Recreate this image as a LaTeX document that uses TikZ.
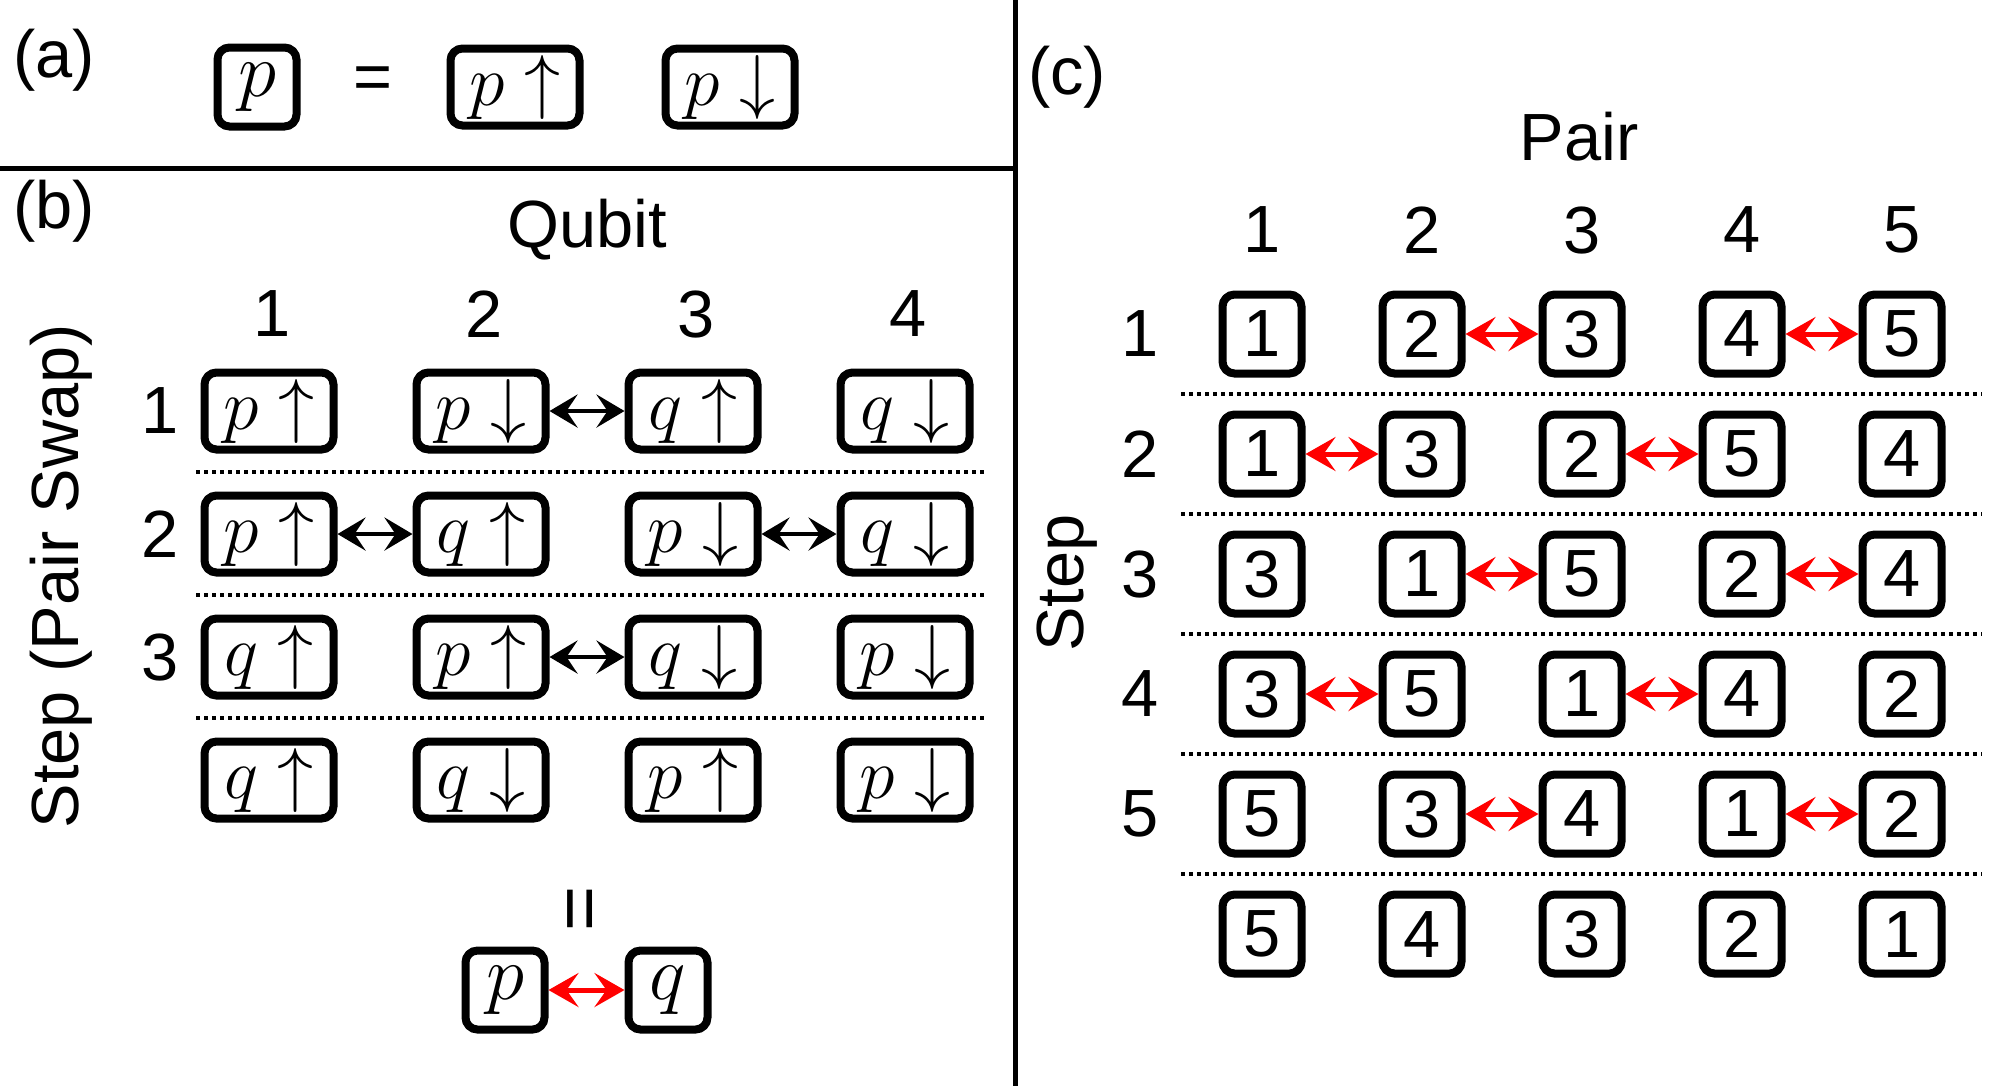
\RequirePackage{fix-cm}
\documentclass[tikz,border=0pt]{standalone}
\usepackage{fontspec}
\setmainfont{Liberation Sans}
\usetikzlibrary{arrows.meta}
\tikzset{
    base/.style={font=\fontsize{19}{23}\selectfont},
    box/.style={rectangle, rounded corners=1.2mm, draw, line width=0.8mm,
                fill=white, inner sep=0pt},
    qbox/.style={box, minimum width=12.9mm, minimum height=7.7mm,
                 font=\fontsize{20.5}{25}\selectfont},
    pbox/.style={box, minimum size=7.9mm, font=\fontsize{22}{26}\selectfont},
    nbox/.style={box, minimum size=7.9mm, base},
    xchg/.style={<->, >={Stealth[length=2.8mm, width=3.3mm, inset=1.1mm]},
                 line width=0.45mm},
    redxchg/.style={<->, >={Stealth[length=3mm, width=3.4mm, inset=1.2mm]},
                    line width=0.5mm, red},
    divider/.style={line width=0.35mm, dash pattern=on 0.35mm off 0.45mm},
    panel/.style={line width=0.5mm}
}
\begin{document}
\begin{tikzpicture}[x=0.1mm, y=-0.1mm, base]
  \useasboundingbox (0,0) rectangle (2008,1086);
  % panel frames
  \draw[panel] (0,168) -- (1015,168);
  \draw[panel] (1015,0) -- (1015,1086);

  % (a) notation
  \node (la) at (54,60) {(a)};
  \node[pbox] (ap) at (257,87) {$p$};
  \node (aeq) at (373,83) {=};
  \node[qbox] (apu) at (515,87) {$p\uparrow$};
  \node[qbox] (apd) at (730,87) {$p\downarrow$};

  % (b) pair swaps on qubits
  \node (lb) at (54,211) {(b)};
  \node (qubit) at (587,230) {Qubit};
  \node[rotate=90] (bstep) at (61,576) {Step (Pair Swap)};
  \foreach \c in {1,...,4}
    \node (bc\c) at (60+212*\c, 314) {\c};
  \foreach \r in {1,2,3}
    \node (br\r) at (160, 288+123*\r) {\r};
  \foreach \row [count=\r] in {{p/\uparrow,p/\downarrow,q/\uparrow,q/\downarrow},
                               {p/\uparrow,q/\uparrow,p/\downarrow,q/\downarrow},
                               {q/\uparrow,p/\uparrow,q/\downarrow,p/\downarrow},
                               {q/\uparrow,q/\downarrow,p/\uparrow,p/\downarrow}}
    \foreach \l/\a [count=\c] in \row
      \node[qbox] (b\r\c) at (57+212*\c, 288+123*\r) {$\l\a$};
  \foreach \r/\i/\j in {1/2/3, 2/1/2, 2/3/4, 3/2/3}
    \draw[xchg] (b\r\i) -- (b\r\j);
  \foreach \y in {472,595,718}
    \draw[divider] (196,\y) -- (986,\y);

  % same swap as one pair
  \node[rotate=90, font=\fontsize{22}{26}\selectfont] (beq) at (587,909) {=};
  \node[pbox] (bp) at (505,990) {$p$};
  \node[pbox] (bq) at (668,990) {$q$};
  \draw[redxchg] (bp) -- (bq);

  % (c) pair ordering
  \node (lc) at (1067,77) {(c)};
  \node (pair) at (1579,137) {Pair};
  \node[rotate=90] (cstep) at (1067,583) {Step};
  \foreach \c in {1,...,5}
    \node (cc\c) at (1102+160*\c, 230) {\c};
  \foreach \r in {1,...,5}
    \node (cr\r) at (1140, 214+120*\r) {\r};
  \foreach \row [count=\r] in {{1,2,3,4,5},{1,3,2,5,4},{3,1,5,2,4},
                               {3,5,1,4,2},{5,3,4,1,2},{5,4,3,2,1}}
    \foreach \n [count=\c] in \row
      \node[nbox] (c\r\c) at (1102+160*\c, 214+120*\r) {\n};
  \foreach \r/\i/\j in {1/2/3, 1/4/5, 2/1/2, 2/3/4, 3/2/3,
                        3/4/5, 4/1/2, 4/3/4, 5/2/3, 5/4/5}
    \draw[redxchg] (c\r\i) -- (c\r\j);
  \foreach \y in {394,514,634,754,874}
    \draw[divider] (1181,\y) -- (1982,\y);
\end{tikzpicture}
\end{document}
